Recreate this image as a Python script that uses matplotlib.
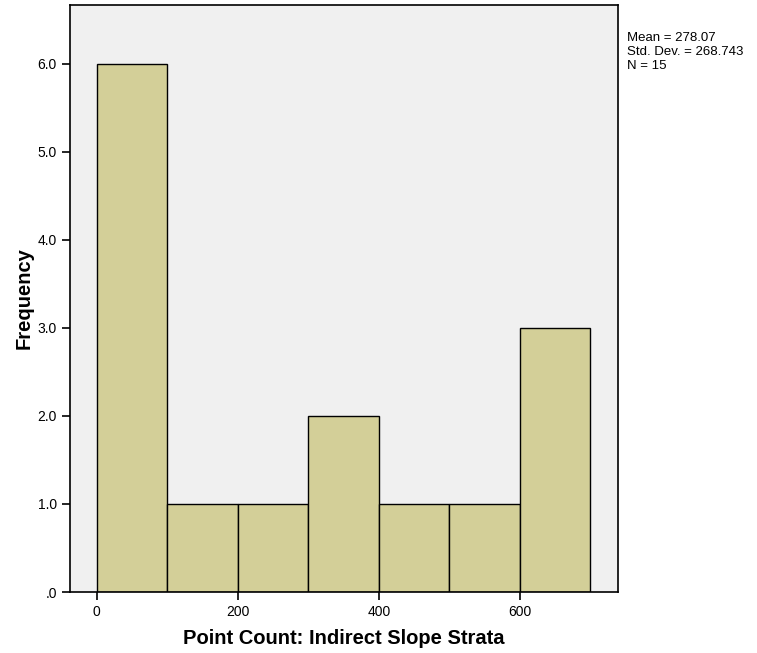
import matplotlib.pyplot as plt
import numpy as np

# Datos del histograma
bin_edges = [0, 100, 200, 300, 400, 500, 600, 700]
counts = [6, 1, 1, 2, 1, 1, 3]
x_ticks = [0, 200, 400, 600]
y_ticks = [0, 1, 2, 3, 4, 5, 6]
y_labels = ['.0', '1.0', '2.0', '3.0', '4.0', '5.0', '6.0']
stats_text = "Mean = 278.07\nStd. Dev. = 268.743\nN = 15"

plt.rcParams['font.family'] = ['Liberation Sans', 'DejaVu Sans']

fig = plt.figure(figsize=(7.57, 6.53), dpi=100)
ax = fig.add_axes([70/757, 1-592/653, (618-70)/757, (592-5)/653])
ax.set_facecolor('#f0f0f0')

widths = np.diff(bin_edges)
ax.bar(bin_edges[:-1], counts, width=widths, align='edge',
       color='#d3cf98', edgecolor='black', linewidth=1)

ax.set_xlim(-38, 739)
ax.set_ylim(0, 6.67)
ax.set_xticks(x_ticks)
ax.set_yticks(y_ticks)
ax.set_yticklabels(y_labels)
ax.tick_params(direction='out', length=6, width=1.2, labelsize=10)
for s in ax.spines.values():
    s.set_linewidth(1.2)

ax.set_xlabel('Point Count: Indirect Slope Strata', fontsize=14.5, fontweight='bold', labelpad=7)
ax.set_ylabel('Frequency', fontsize=14.5, fontweight='bold', labelpad=3)

fig.text(627/757, 1-32/653, stats_text, fontsize=9.5, va='top', ha='left', linespacing=1.2)

fig.savefig('out.png', dpi=100)
